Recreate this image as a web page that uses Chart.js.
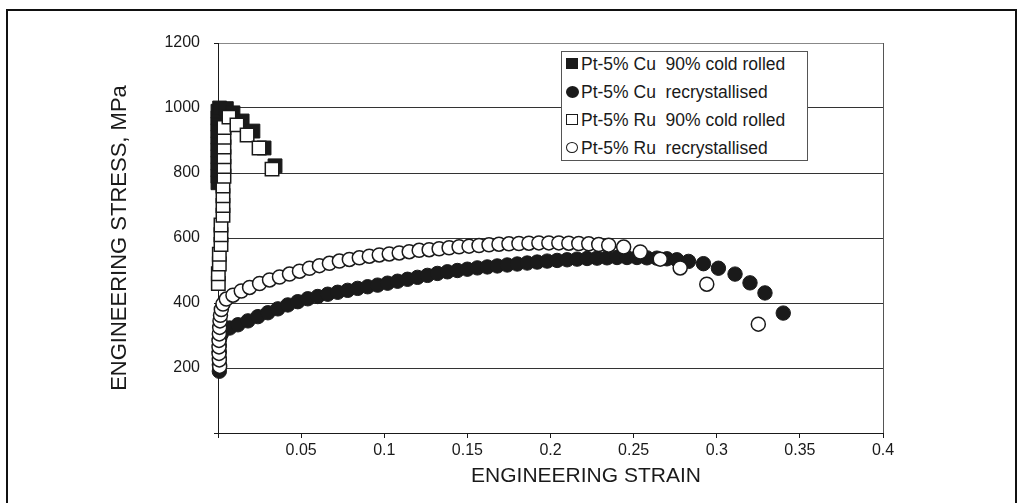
<!DOCTYPE html>
<html>
<head>
<meta charset="utf-8">
<script src="https://cdn.jsdelivr.net/npm/chart.js@4.4.0/dist/chart.umd.min.js"></script>
<style>
  html, body { margin: 0; padding: 0; background: #fff; }
  #wrap { position: relative; width: 1024px; height: 503px; overflow: hidden; }
  #frame { position: absolute; left: 6px; top: 9px; width: 1011px; height: 530px;
    border: 2px solid #111; border-bottom: none; box-sizing: border-box; }
  canvas { position: absolute; left: 0; top: 0; }
  #legend { position: absolute; left: 561px; top: 51px; width: 247px; height: 110px;
    border: 1px solid #555; background: #fff; box-sizing: border-box;
    font-family: "Liberation Sans", Arial, sans-serif; font-size: 17.5px; color: #1a1a1a; }
  .row { position: absolute; left: 0; height: 22px; width: 240px; }
  .row span.txt { position: absolute; left: 19px; top: 0; line-height: 22px; white-space: pre; }
  .mk { position: absolute; left: 4px; top: 5px; width: 12px; height: 11px; box-sizing: border-box; }
</style>
</head>
<body>
<div id="wrap">
  <div id="frame"></div>
  <canvas id="chart" width="1024" height="503"></canvas>
  <div id="legend"></div>
</div>
<script>
const seriesLabels = [
  'Pt-5% Cu  90% cold rolled',
  'Pt-5% Cu  recrystallised',
  'Pt-5% Ru  90% cold rolled',
  'Pt-5% Ru  recrystallised'
];
const xTitle = 'ENGINEERING STRAIN';
const yTitle = 'ENGINEERING STRESS, MPa';

// Pt-5% Cu 90% cold rolled
const cuColdStrain = [0, 0, 0, 0, 0, 0, 0, 0, 0, 0, 0, 0, 0.001, 0.005, 0.009, 0.0145, 0.021, 0.0277, 0.0343];
const cuColdStress = [770, 790, 810, 830, 850, 870, 890, 910, 930, 950, 970, 990, 1000, 998, 985, 960, 929, 877, 822];

// Pt-5% Cu recrystallised
const cuRecStrain = [0.0008, 0.0008, 0.0008, 0.0008, 0.0008, 0.001, 0.002,
  0.007, 0.012, 0.018, 0.024, 0.030, 0.036, 0.042, 0.048, 0.054, 0.060, 0.066, 0.072, 0.078, 0.084,
  0.090, 0.096, 0.102, 0.108, 0.114, 0.120, 0.126, 0.132, 0.138, 0.144, 0.150, 0.156, 0.162, 0.168,
  0.174, 0.180, 0.186, 0.192, 0.198, 0.204, 0.210, 0.216, 0.222, 0.228, 0.234, 0.240, 0.246, 0.252,
  0.258, 0.264, 0.270, 0.276, 0.283, 0.292, 0.301, 0.311, 0.320, 0.329, 0.340];
const cuRecStress = [190, 210, 230, 250, 270, 290, 305,
  323, 333, 345, 358, 370, 382, 394, 404, 413, 420, 427, 433, 439, 445,
  450, 455, 461, 467, 473, 479, 485, 491, 496, 500, 504, 508, 511, 514,
  517, 520, 523, 526, 529, 531, 533, 535, 537, 538, 539, 540, 540, 540,
  539, 538, 536, 533, 528, 521, 507, 489, 462, 431, 369];

// Pt-5% Ru 90% cold rolled
const ruColdStrain = [0.0002, 0.0002, 0.0008, 0.0008, 0.0018, 0.0018, 0.0018, 0.003, 0.003, 0.003, 0.003,
  0.0036, 0.0036, 0.0036, 0.0036, 0.0036, 0.0036, 0.0066, 0.0114, 0.0175, 0.0247, 0.0325];
const ruColdStress = [460, 490, 520, 550, 580, 610, 640, 670, 700, 730, 760,
  790, 820, 850, 880, 910, 940, 972, 948, 917, 877, 812];

// Pt-5% Ru recrystallised
const ruRecStrain = [0.001, 0.0008, 0.0006, 0.0006, 0.0006, 0.0008, 0.001, 0.0012, 0.0015, 0.002, 0.003,
  0.005, 0.009, 0.014, 0.019, 0.025, 0.031, 0.037, 0.043, 0.049, 0.055, 0.061, 0.067, 0.073, 0.079,
  0.085, 0.091, 0.097, 0.103, 0.109, 0.115, 0.121, 0.127, 0.133, 0.139, 0.145, 0.151, 0.157, 0.163,
  0.169, 0.175, 0.181, 0.187, 0.193, 0.199, 0.205, 0.211, 0.217, 0.223, 0.229, 0.235,
  0.244, 0.254, 0.266, 0.278, 0.294, 0.325];
const ruRecStress = [205, 225, 245, 265, 285, 305, 325, 345, 362, 380, 397,
  412, 424, 437, 448, 460, 471, 480, 489, 498, 507, 515, 522, 529, 534,
  539, 544, 548, 551, 554, 558, 562, 564, 567, 570, 573, 575, 577, 579,
  581, 582, 583, 584, 585, 585, 585, 584, 583, 582, 580, 578,
  572, 557, 535, 508, 458, 335];

const font = '"Liberation Sans", Arial, sans-serif';
const ink = '#1a1a1a';

const pts = (xs, ys) => xs.map((x, i) => ({ x: x, y: ys[i] }));

const styles = [
  { pointStyle: 'rect', pointRadius: 9.8, pointBackgroundColor: ink, pointBorderColor: ink, pointBorderWidth: 1, order: 3 },
  { pointStyle: 'circle', pointRadius: 7.2, pointBackgroundColor: ink, pointBorderColor: ink, pointBorderWidth: 1, order: 2 },
  { pointStyle: 'rect', pointRadius: 9.5, pointBackgroundColor: '#fff', pointBorderColor: ink, pointBorderWidth: 1.5, order: 1 },
  { pointStyle: 'circle', pointRadius: 7, pointBackgroundColor: '#fff', pointBorderColor: ink, pointBorderWidth: 1.5, order: 0 }
];
const series = [
  pts(cuColdStrain, cuColdStress),
  pts(cuRecStrain, cuRecStress),
  pts(ruColdStrain, ruColdStress),
  pts(ruRecStrain, ruRecStress)
];

const axisTitles = {
  id: 'axisTitles',
  afterDraw(chart) {
    const ctx = chart.ctx;
    const area = chart.chartArea;
    ctx.save();
    ctx.fillStyle = ink;
    ctx.textAlign = 'center';
    ctx.textBaseline = 'middle';
    ctx.font = '21px ' + font;
    ctx.fillText(xTitle, area.left + 368, area.bottom + 43);
    ctx.font = '22px ' + font;
    ctx.translate(120, (area.top + area.bottom) / 2);
    ctx.rotate(-Math.PI / 2);
    ctx.fillText(yTitle, 0, 0);
    ctx.restore();
  }
};

new Chart(document.getElementById('chart'), {
  type: 'scatter',
  data: {
    datasets: series.map((d, i) => Object.assign({
      label: seriesLabels[i],
      data: d,
      showLine: false,
      clip: false,
      pointHoverRadius: styles[i].pointRadius
    }, styles[i]))
  },
  options: {
    responsive: false,
    animation: false,
    devicePixelRatio: 1,
    layout: { autoPadding: false, padding: { left: 0, top: 43, right: 141, bottom: 0 } },
    plugins: { legend: { display: false }, tooltip: { enabled: false } },
    scales: {
      x: {
        type: 'linear',
        min: 0,
        max: 0.4,
        afterFit(s) { s.height = 70; },
        ticks: {
          stepSize: 0.05,
          autoSkip: false,
          maxRotation: 0,
          color: ink,
          padding: 3,
          font: { family: font, size: 16 },
          callback: v => v === 0 ? '' : String(Math.round(v * 100) / 100)
        },
        grid: {
          color: c => (c.tick && c.tick.value > 0.399) ? '#555' : 'rgba(0,0,0,0)',
          tickColor: ink,
          tickLength: 5,
          lineWidth: 1
        },
        border: { display: true, color: ink, width: 1 }
      },
      y: {
        min: 0,
        max: 1200,
        afterFit(s) { s.width = 218; },
        ticks: {
          stepSize: 200,
          color: ink,
          padding: 14,
          font: { family: font, size: 16 },
          callback: v => v === 0 ? '' : String(v)
        },
        grid: {
          color: c => (c.tick && c.tick.value === 1200) ? '#888' : '#333',
          tickColor: ink,
          tickLength: 4,
          lineWidth: 1
        },
        border: { display: true, color: ink, width: 1 }
      }
    }
  },
  plugins: [axisTitles]
});

// legend box
const legend = document.getElementById('legend');
const markerCss = [
  'background:' + ink + ';',
  'background:' + ink + ';border-radius:50%;width:13px;height:12px;',
  'border:1px solid ' + ink + ';background:#fff;',
  'border:1px solid ' + ink + ';background:#fff;border-radius:50%;'
];
seriesLabels.forEach((label, i) => {
  const row = document.createElement('div');
  row.className = 'row';
  row.style.top = (1 + i * 28) + 'px';
  const mk = document.createElement('div');
  mk.className = 'mk';
  mk.style.cssText = markerCss[i];
  const txt = document.createElement('span');
  txt.className = 'txt';
  txt.textContent = label;
  row.appendChild(mk);
  row.appendChild(txt);
  legend.appendChild(row);
});
</script>
</body>
</html>
